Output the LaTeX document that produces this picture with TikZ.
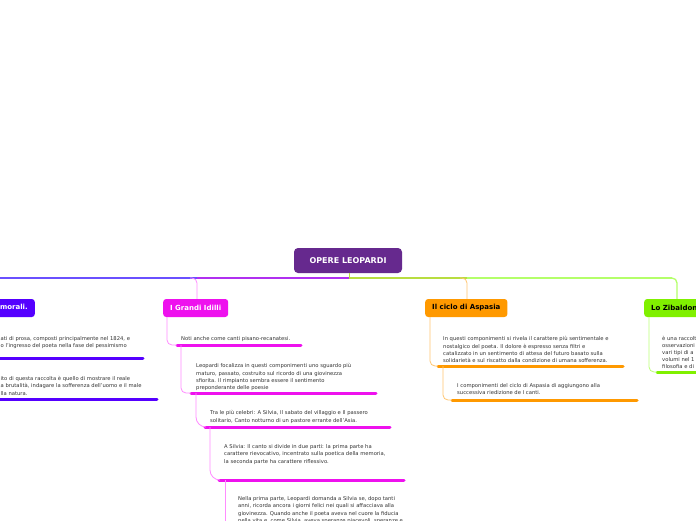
\documentclass[tikz,border=0pt]{standalone}
\usepackage{fontspec}
\setmainfont{DejaVu Sans}
\definecolor{central}{HTML}{66298E}
\definecolor{cblue}{HTML}{5500FF}
\definecolor{cmag}{HTML}{EE11EE}
\definecolor{corange}{HTML}{FF9900}
\definecolor{cgreen}{HTML}{80F000}
\definecolor{lmag}{HTML}{FF8CFF}
\definecolor{lorange}{HTML}{FFC670}
\definecolor{lgreen}{HTML}{BBFF77}
\definecolor{mainleft}{HTML}{6A50FF}
\definecolor{mainmid}{HTML}{B030F0}
\definecolor{mainright}{HTML}{B8DD40}
\definecolor{mainfar}{HTML}{B4FF6A}
\definecolor{txt}{HTML}{333333}
\tikzset{
  topic/.style={rounded corners=3pt, minimum height=18pt, inner xsep=7pt, inner ysep=0pt,
    font=\fontsize{7}{8}\selectfont\bfseries},
  body/.style={anchor=north west, inner sep=0pt, align=left, text=txt,
    font=\fontsize{5.25}{7.3}\selectfont},
  uline/.style={line width=3pt, line cap=round},
  conn/.style={line width=0.8pt, rounded corners=5pt},
  mainln/.style={line width=1.8pt},
}
\begin{document}
\begin{tikzpicture}[x=1pt,y=-1pt]
\useasboundingbox (0,0) rectangle (696,520);
\fill[white] (0,0) rectangle (696,520);

% central node
\node[rounded corners=4pt, fill=central, text=white, minimum width=108pt, minimum height=25pt,
  font=\fontsize{8}{9}\selectfont\bfseries] (c) at (348,260.5) {OPERE LEOPARDI};

% main line coordinates
\coordinate (mL) at (-10,278);
\coordinate (mG) at (197,278);
\coordinate (mC) at (349,278);
\coordinate (mA) at (467,278);

% branch nodes
\node[topic, fill=cblue, text=white, anchor=east] (op) at (35,308) {Operette morali.};
\node[topic, fill=cmag, text=white, anchor=west] (gi) at (163,308) {I Grandi Idilli};
\node[topic, fill=corange, text=black, anchor=west] (ca) at (425,308) {Il ciclo di Aspasia};
\node[topic, fill=cgreen, text=black, anchor=west] (zb) at (644,308) {Lo Zibaldone};

% main lines
\draw[mainln, mainleft] (mL) -- (mG);
\draw[mainln, mainmid] (mG) -- (mC);
\draw[mainln, mainright] (mC) -- (mA);
\draw[mainln, mainfar] (mA) -- (672,278);
\draw[line width=1pt, mainright] (c.south -| mC) -- (mC);
\draw[conn, lmag] (190,278) -| (gi.north -| mG);
\draw[conn, lorange] (460,278) -| (ca.north -| mA);
\draw[conn, line width=1.3pt, mainfar] (670,278) -| (zb.north -| 677,0);

% ---- Operette morali children
\node[body] (op1) at (0.5,336) {ati di prosa, composti principalmente nel 1824, e\\o l'ingresso del poeta nella fase del pessimismo};
\coordinate (op1a) at (-5,358); \coordinate (op1b) at (143,358);
\draw[uline, cblue] (op1a) -- (op1b);
\node[body] (op2) at (0.5,376) {ito di questa raccolta è quello di mostrare il reale\\a brutalità, indagare la sofferenza dell'uomo e il male\\lla natura.};
\coordinate (op2a) at (-5,399); \coordinate (op2b) at (157,399);
\draw[uline, cblue] (op2a) -- (op2b);

% ---- I Grandi Idilli children
\node[body] (g1) at (181,336.5) {Noti anche come canti pisano-recanatesi.};
\coordinate (g1a) at (177,345); \coordinate (g1b) at (301,345);
\draw[uline, cmag] (g1a) -- (g1b);
\draw[conn, lmag] (gi.south -| 167,0) |- (g1a);

\node[body] (g2) at (196,363.5) {Leopardi focalizza in questi componimenti uno sguardo più\\maturo, passato, costruito sul ricordo di una giovinezza\\sfiorita. Il rimpianto sembra essere il sentimento\\preponderante delle poesie};
\coordinate (g2a) at (191,393); \coordinate (g2b) at (376,393);
\draw[uline, cmag] (g2a) -- (g2b);
\draw[conn, lmag] (g1a -| 181,0) |- (g2a);

\node[body] (g3) at (210,410.5) {Tra le più celebri: A Silvia, Il sabato del villaggio e Il passero\\solitario, Canto notturno di un pastore errante dell'Asia.};
\coordinate (g3a) at (205,427); \coordinate (g3b) at (390,427);
\draw[uline, cmag] (g3a) -- (g3b);
\draw[conn, lmag, rounded corners=10pt] (g2a -| 196,0) |- (g3a);

\node[body] (g4) at (224,444.5) {A Silvia: Il canto si divide in due parti: la prima parte ha\\carattere rievocativo, incentrato sulla poetica della memoria,\\la seconda parte ha carattere riflessivo.};
\coordinate (g4a) at (219,480); \coordinate (g4b) at (404,480);
\draw[uline, cmag] (g4a) -- (g4b);
\draw[conn, lmag, rounded corners=10pt] (g3a -| 210,0) |- (g4a);

\node[body] (g5) at (238,496.5) {Nella prima parte, Leopardi domanda a Silvia se, dopo tanti\\anni, ricorda ancora i giorni felici nei quali si affacciava alla\\giovinezza. Quando anche il poeta aveva nel cuore la fiducia\\nella vita e, come Silvia, aveva speranze piacevoli, speranze e};
\coordinate (g5end) at (225,530);
\draw[conn, lmag] (g4a -| 225,0) -- (g5end);

% ---- Il ciclo di Aspasia children
\node[body] (a1) at (443,336.5) {In questi componimenti si rivela il carattere più sentimentale e\\nostalgico del poeta. Il dolore è espresso senza filtri e\\catalizzato in un sentimento di attesa del futuro basato sulla\\solidarietà e sul riscatto dalla condizione di umana sofferenza.};
\coordinate (a1a) at (438,366); \coordinate (a1b) at (623,366);
\draw[uline, corange] (a1a) -- (a1b);
\draw[conn, lorange] (ca.south -| 430,0) |- (a1a);

\node[body] (a2) at (457,383.5) {I componimenti del ciclo di Aspasia di aggiungono alla\\successiva riedizione de I canti.};
\coordinate (a2a) at (452,400); \coordinate (a2b) at (637,400);
\draw[uline, corange] (a2a) -- (a2b);
\draw[conn, lorange] (a1a -| 443,0) |- (a2a);

% ---- Lo Zibaldone children
\node[body, font=\fontsize{5.25}{7}\selectfont] (z1) at (662,336.5) {è una raccolta\\osservazioni\\vari tipi di a\\volumi nel 1\\filosofia e di};
\coordinate (z1a) at (657,372); \coordinate (z1b) at (700,372);
\draw[uline, cgreen] (z1a) -- (z1b);
\draw[conn, lgreen] (zb.south -| 649,0) |- (z1a);
\end{tikzpicture}
\end{document}
